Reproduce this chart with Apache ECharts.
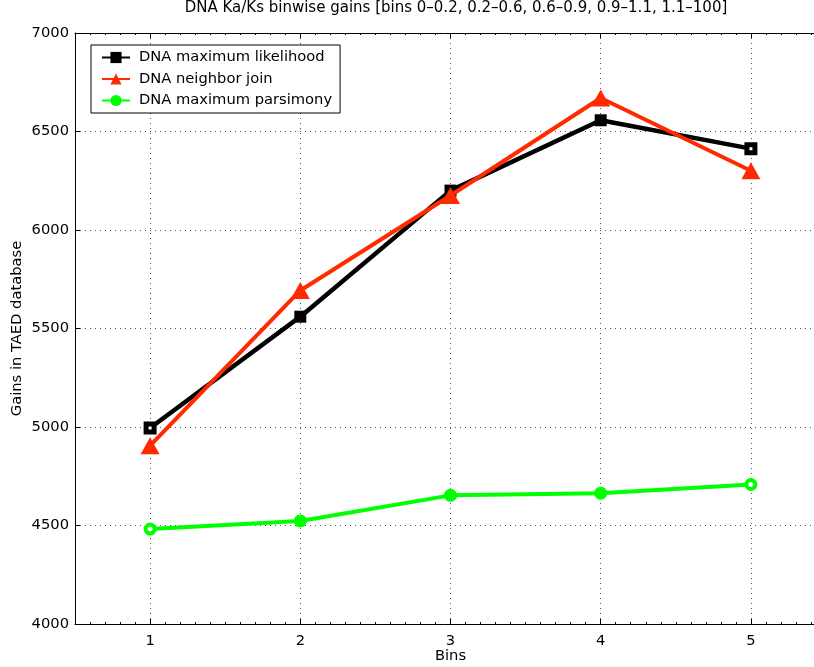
<!DOCTYPE html>
<html>
<head>
<meta charset="utf-8">
<script src="https://cdn.jsdelivr.net/npm/echarts@6/dist/echarts.min.js"></script>
<style>html,body{margin:0;padding:0;background:#fff;}#c{width:814px;height:667px;}</style>
</head>
<body>
<div id="c"></div>
<script>
var titleText = 'DNA Ka/Ks binwise gains [bins 0\u20130.2, 0.2\u20130.6, 0.6\u20130.9, 0.9\u20131.1, 1.1\u2013100]';
var bins = [1, 2, 3, 4, 5];
var seriesNames = ['DNA maximum likelihood', 'DNA neighbor join', 'DNA maximum parsimony'];
var mlValues = [4995, 5560, 6200, 6557, 6413];
var njValues = [4905, 5693, 6175, 6670, 6301];
var mpValues = [4482, 4523, 4653, 4664, 4708];
var yTicks = [4000, 4500, 5000, 5500, 6000, 6500, 7000];

var FONT = 'DejaVu Sans, Verdana, sans-serif';
var FS = 14.7;
var chart = echarts.init(document.getElementById('c'), null, {renderer: 'canvas'});

function pairs(vals, hollowIdx, color, inner, border) {
  return bins.map(function (b, i) {
    var d = {value: [b, vals[i]]};
    if (hollowIdx.indexOf(i) >= 0) {
      d.symbolSize = inner;
      d.itemStyle = {color: '#fff', borderColor: color, borderWidth: border};
    }
    return d;
  });
}

var option = {
  backgroundColor: '#fff',
  animation: false,
  title: {
    text: titleText,
    left: 456, top: 1, textAlign: 'center', padding: 0,
    textStyle: {fontFamily: FONT, fontSize: 15, fontWeight: 'normal', color: '#000'}
  },
  legend: {
    orient: 'vertical',
    left: 91, top: 45,
    padding: [5, 8, 5, 10],
    itemWidth: 28, itemHeight: 14, itemGap: 6.5,
    borderColor: '#000', borderWidth: 1, backgroundColor: '#fff',
    textStyle: {fontFamily: FONT, fontSize: FS, color: '#000', padding: [0, 0, 0, 4]},
    data: seriesNames
  },
  grid: {left: 75, right: -12, top: 33, bottom: 43, containLabel: false, outerBoundsMode: 'none'},
  xAxis: [{
    type: 'value', min: 0.5, max: 5.5, splitNumber: 5,
    name: 'Bins', nameLocation: 'middle', nameGap: 25, nameMoveOverlap: false,
    nameTextStyle: {fontFamily: FONT, fontSize: FS, color: '#000'},
    axisLine: {onZero: false, lineStyle: {color: '#000', width: 1}},
    axisTick: {inside: true, length: 5, lineStyle: {color: '#000'}},
    minorTick: {show: true, splitNumber: 10, length: 2, lineStyle: {color: '#000'}},
    axisLabel: {fontFamily: FONT, fontSize: FS, color: '#000', margin: 10,
      formatter: function (v) { return bins.indexOf(v) >= 0 ? String(v) : ''; }},
    splitLine: {show: true, lineStyle: {color: '#555', width: 1, type: [1, 4]}}
  }, {
    type: 'value', position: 'top', min: 0.5, max: 5.5, splitNumber: 5,
    axisLine: {onZero: false, lineStyle: {color: '#000', width: 1}},
    axisTick: {inside: true, length: 5, lineStyle: {color: '#000'}},
    minorTick: {show: true, splitNumber: 10, length: 2, lineStyle: {color: '#000'}},
    axisLabel: {show: false},
    splitLine: {show: false}
  }],
  yAxis: {
    type: 'value', min: yTicks[0], max: yTicks[yTicks.length - 1], interval: 500,
    name: 'Gains in TAED database', nameLocation: 'middle', nameGap: 50, nameRotate: 90,
    nameMoveOverlap: false,
    nameTextStyle: {fontFamily: FONT, fontSize: FS, color: '#000'},
    axisLine: {show: true, lineStyle: {color: '#000', width: 1}},
    axisTick: {show: true, inside: true, length: 5, lineStyle: {color: '#000'}},
    axisLabel: {fontFamily: FONT, fontSize: FS, color: '#000', margin: 6,
      formatter: function (v) { return String(v); }},
    splitLine: {show: true, lineStyle: {color: '#555', width: 1, type: [1, 4]}}
  },
  series: [{
    name: seriesNames[0], type: 'line', xAxisIndex: 0,
    data: pairs(mlValues, [0, 4], '#000', 8, 5),
    symbol: 'rect', symbolSize: 12,
    lineStyle: {color: '#000', width: 4.5},
    itemStyle: {color: '#000'},
    z: 3
  }, {
    name: seriesNames[1], type: 'line', xAxisIndex: 0,
    data: pairs(njValues, [], '#ff2a00', 0, 0),
    symbol: 'triangle', symbolSize: [19, 17],
    lineStyle: {color: '#ff2a00', width: 4},
    itemStyle: {color: '#ff2a00'},
    z: 4
  }, {
    name: seriesNames[2], type: 'line', xAxisIndex: 0,
    data: pairs(mpValues, [0, 4], '#00ff00', 9, 4),
    symbol: 'circle', symbolSize: 13,
    lineStyle: {color: '#00ff00', width: 4},
    itemStyle: {color: '#00ff00'},
    z: 3
  }]
};
chart.setOption(option);
</script>
</body>
</html>
